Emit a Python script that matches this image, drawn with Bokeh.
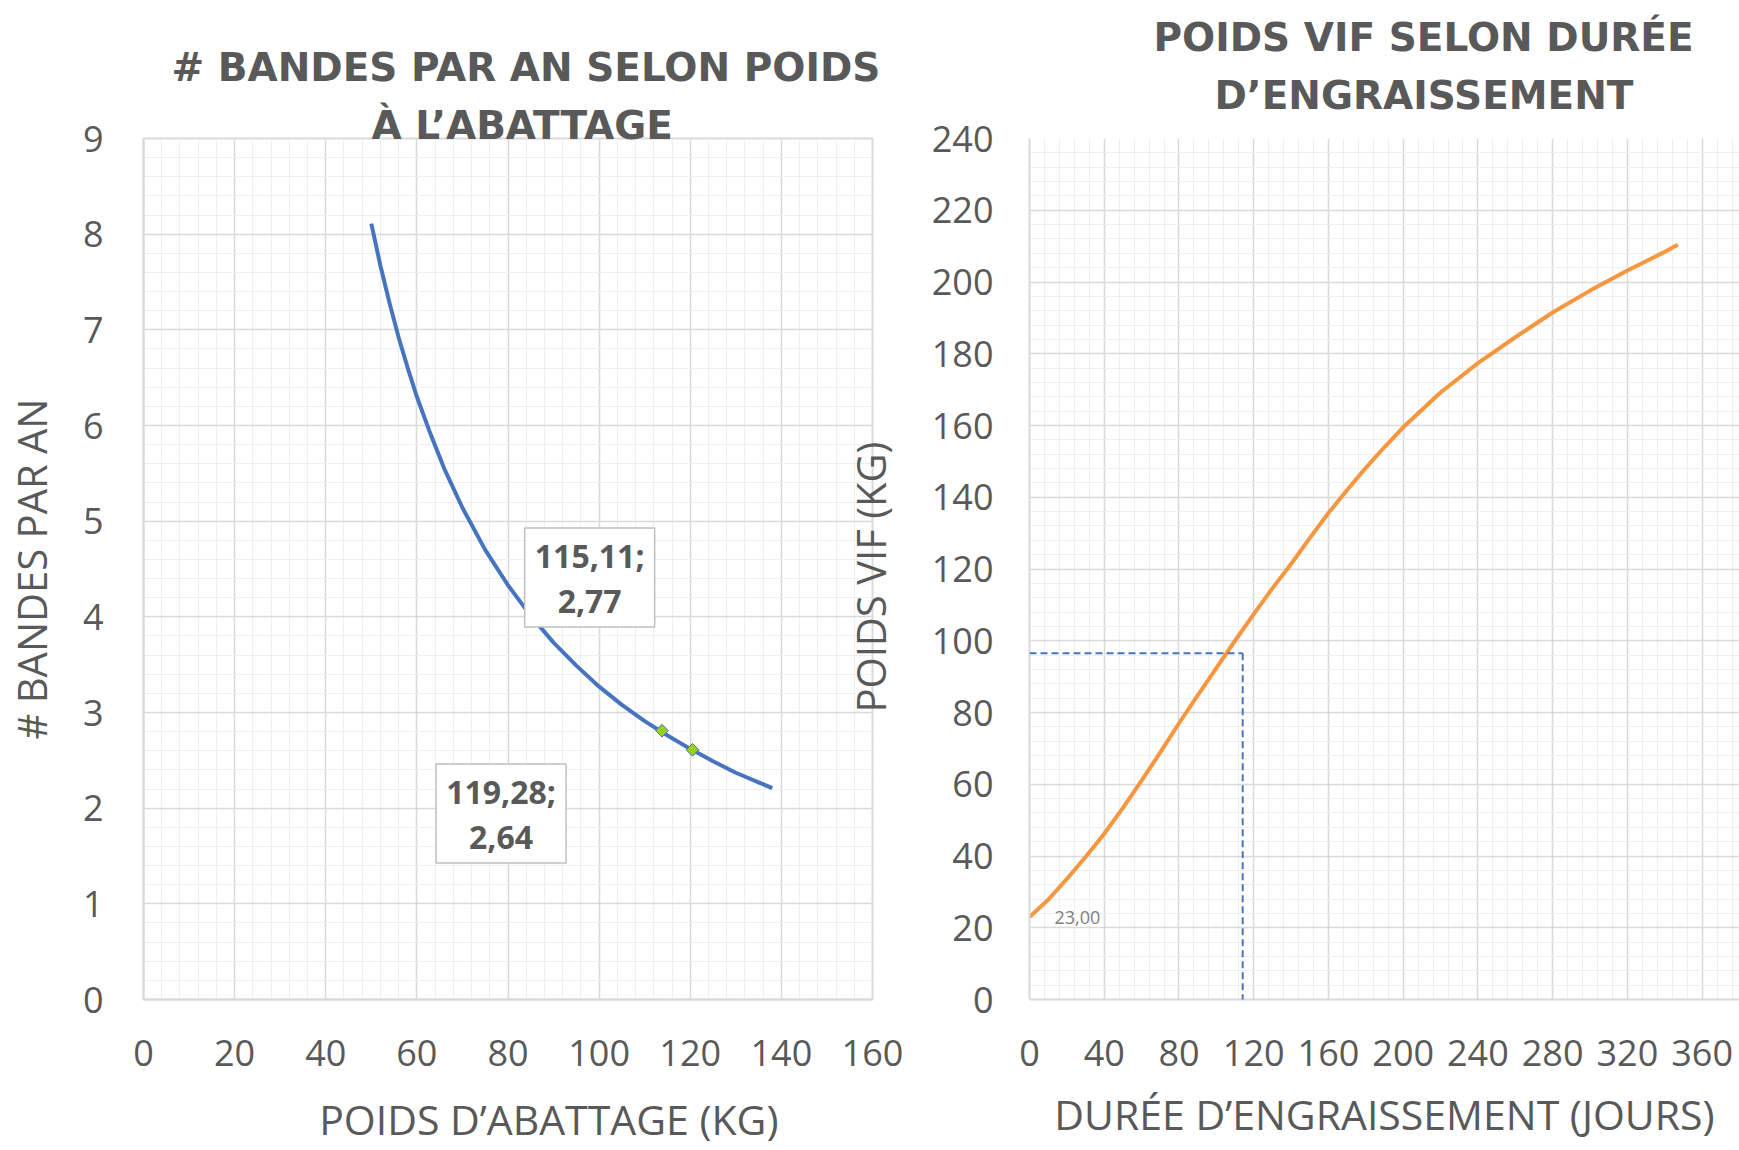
import math
from bokeh.plotting import figure
from bokeh.models import (SingleIntervalTicker, FixedTicker, Label, Arrow, Range1d,
                          Title, LinearAxis)
from bokeh.layouts import row
from bokeh.embed import file_html
from bokeh.resources import INLINE
from bokeh.core.properties import value

# ---------------- data : left chart ----------------
weight_kg = [50, 52, 54, 56, 58, 60, 63, 66, 70, 75, 80, 85, 90, 95, 100,
             105, 110, 115, 120, 125, 130, 135, 138]
bands_per_year = [8.11, 7.67, 7.28, 6.92, 6.60, 6.30, 5.91, 5.55, 5.14, 4.70,
                  4.33, 4.01, 3.73, 3.49, 3.27, 3.08, 2.91, 2.76, 2.62, 2.49,
                  2.37, 2.27, 2.21]
marker_weight = [113.8, 120.5]
marker_bands = [2.81, 2.61]
callout_line1 = ["115,11;", "119,28;"]
callout_line2 = ["2,77", "2,64"]
left_title = ["# BANDES PAR AN SELON POIDS", "À L’ABATTAGE"]
left_xlabel = "POIDS D’ABATTAGE (KG)"
left_ylabel = "# BANDES PAR AN"

# ---------------- data : right chart ----------------
days = [0, 10, 20, 30, 40, 50, 60, 70, 80, 90, 100, 110, 120, 130, 140, 150,
        160, 170, 180, 190, 200, 220, 240, 260, 280, 300, 320, 340, 347]
live_weight = [23.0, 27.8, 33.6, 39.7, 46.2, 53.4, 61.0, 68.9, 77.0, 84.8,
               92.4, 100.0, 107.4, 114.6, 121.4, 128.6, 135.6, 142.0, 148.2,
               154.0, 159.5, 169.2, 177.4, 184.6, 191.5, 197.6, 203.2, 208.4,
               210.4]
start_label = "23,00"
guide_day = 114.1
guide_weight = 96.5
guide_bottom = -3.3
right_title = ["POIDS VIF SELON DURÉE", "D’ENGRAISSEMENT"]
right_xlabel = "DURÉE D’ENGRAISSEMENT (JOURS)"
right_ylabel = "POIDS VIF (KG)"

# ---------------- styling / geometry ----------------
FONT = "Open Sans"
TFONT = "DejaVu Sans"
TXT = "#595959"
MAJ = "#D9D9D9"
MIN = "#EFEFEF"
BLUE = "#4674BE"
ORANGE = "#F7963F"

H = 1150
TOP = 138
BOTTOM = 151
FRAME_H = H - TOP - BOTTOM  # 861

L_W, L_BL, L_BR = 928, 142, 54
L_FL = L_BL
L_FW = L_W - L_BL - L_BR          # 732
L_XMAX, L_YMAX = 160, 9

R_W, R_BL, R_BR = 1739 - L_W, 99, 0
R_FL = L_W + R_BL                 # 1027
R_FW = R_W - R_BL - R_BR          # 712
R_XMAX, R_YMAX = 380, 240

F_BOT = TOP + FRAME_H


def l_pos(px, py):
    return ((px - L_FL) * L_XMAX / L_FW, (F_BOT - py) * L_YMAX / FRAME_H)


def r_pos(px, py):
    return ((px - R_FL) * R_XMAX / R_FW, (F_BOT - py) * R_YMAX / FRAME_H)


def make_fig(w, bl, br, xmax, ymax):
    p = figure(width=w, height=H, x_range=Range1d(0, xmax), y_range=Range1d(0, ymax),
               output_backend="svg", toolbar_location=None,
               min_border_left=bl, min_border_right=br,
               min_border_top=TOP, min_border_bottom=BOTTOM)
    p.outline_line_color = None
    p.background_fill_color = "white"
    p.border_fill_color = "white"
    return p


def style(p, xint, yint, ystand):
    xt = SingleIntervalTicker(interval=xint, num_minor_ticks=5)
    yt = SingleIntervalTicker(interval=yint, num_minor_ticks=5)
    p.xaxis.ticker = xt
    p.yaxis.ticker = yt
    p.xgrid.ticker = xt
    p.ygrid.ticker = yt
    for g in (p.xgrid, p.ygrid):
        g.grid_line_color = MAJ
        g.grid_line_width = 1.5
        g.minor_grid_line_color = MIN
        g.minor_grid_line_width = 1.2
    for ax in (p.xaxis, p.yaxis):
        ax.axis_line_color = MAJ
        ax.axis_line_width = 2
        ax.major_tick_line_color = None
        ax.minor_tick_line_color = None
        ax.major_tick_out = 0
        ax.major_tick_in = 0
        ax.major_label_text_font = FONT
        ax.major_label_text_font_size = "36px"
        ax.major_label_text_color = TXT
        ax.axis_label_text_font = FONT
        ax.axis_label_text_font_size = "41px"
        ax.axis_label_text_font_style = "normal"
        ax.axis_label_text_color = TXT
    p.xaxis.major_label_standoff = 36
    p.yaxis.major_label_standoff = ystand


def title(p, text, offset, standoff):
    p.add_layout(Title(text=text, align="left", offset=offset, standoff=standoff,
                       vertical_align="bottom", text_font=TFONT,
                       text_font_size="39px", text_font_style="bold",
                       text_color=TXT), "above")


def label_axis(range_name, dim, tick, text, standoff, orientation, size):
    kw = dict(x_range_name=range_name) if dim == "x" else dict(y_range_name=range_name)
    return LinearAxis(ticker=FixedTicker(ticks=[tick], minor_ticks=[]),
                      major_label_overrides={tick: text},
                      axis_line_color=None, major_tick_line_color=None,
                      minor_tick_line_color=None, major_tick_out=0, major_tick_in=0,
                      minor_tick_out=0, minor_tick_in=0,
                      major_label_standoff=standoff,
                      major_label_orientation=orientation,
                      major_label_text_font=FONT, major_label_text_font_size=size,
                      major_label_text_color=TXT, **kw)


# ---------------- left chart ----------------
p1 = make_fig(L_W, L_BL, L_BR, L_XMAX, L_YMAX)
style(p1, 20, 1, 36)
p1.outline_line_color = MAJ
p1.outline_line_width = 2
p1.yaxis.axis_label = left_ylabel
p1.yaxis.axis_label_text_font_size = "40px"
p1.yaxis.axis_label_standoff = 21

p1.line(weight_kg, bands_per_year, line_color=BLUE, line_width=4)
p1.scatter(marker_weight, marker_bands, marker="square", angle=math.pi / 4, size=9,
           fill_color="#9ACD1E", line_color=BLUE, line_width=1)

box_pos = [l_pos(590, 577), l_pos(501, 813)]
bx = [b[0] for b in box_pos]
by = [b[1] for b in box_pos]
p1.rect(bx, by, width=130, height=99, width_units="screen", height_units="screen",
        fill_color="white", line_color="#BFBFBF", line_width=1.5)
p1.text(bx, by, text=callout_line1, text_font=value(FONT), text_font_style="bold",
        text_font_size="32px", text_color=TXT, text_align="center",
        text_baseline="middle", y_offset=-22)
p1.text(bx, by, text=callout_line2, text_font=value(FONT), text_font_style="bold",
        text_font_size="32px", text_color=TXT, text_align="center",
        text_baseline="middle", y_offset=24)

# two-line title (first added sits closest to the plot)
title(p1, left_title[1], 228, -18)
title(p1, left_title[0], 28, 40)

# pixel-based helper ranges used only to place the axis titles
p1.extra_x_ranges = {"xlab": Range1d(L_FL - 549, L_FL + L_FW - 549)}
p1.extra_y_ranges = {"ylab": Range1d(0, FRAME_H)}
# x-axis title (sits right of the plot centre in the original)
p1.add_layout(label_axis("xlab", "x", 0, left_xlabel, 22, "horizontal", "41px"),
              "below")
# y-axis title of the right chart, in the gap between the two charts
p1.add_layout(label_axis("ylab", "y", F_BOT - 712, right_ylabel, -2, math.pi / 2,
                         "40px"), "right")

# ---------------- right chart ----------------
p2 = make_fig(R_W, R_BL, R_BR, R_XMAX, R_YMAX)
style(p2, 40, 20, 32)
p2.xaxis.axis_label = right_xlabel
p2.xaxis.axis_label_standoff = 17

p2.line(days, live_weight, line_color=ORANGE, line_width=4)
p2.add_layout(Arrow(end=None, x_start=0, y_start=guide_weight, x_end=guide_day,
                    y_end=guide_weight, line_color=BLUE, line_width=2,
                    line_dash="7 4"))
p2.add_layout(Arrow(end=None, x_start=guide_day, y_start=guide_weight,
                    x_end=guide_day, y_end=guide_bottom, line_color=BLUE,
                    line_width=2, line_dash="7 4"))

sx, sy = r_pos(1052, 917)
p2.add_layout(Label(x=sx, y=sy, text=start_label, text_font=FONT,
                    text_font_size="18px", text_color="#7F7F7F",
                    text_align="left", text_baseline="middle"))

title(p2, right_title[1], 185, 42)
title(p2, right_title[0], 124, -21)

layout = row(p1, p2)
open("out.html", "w").write(file_html(layout, INLINE))
